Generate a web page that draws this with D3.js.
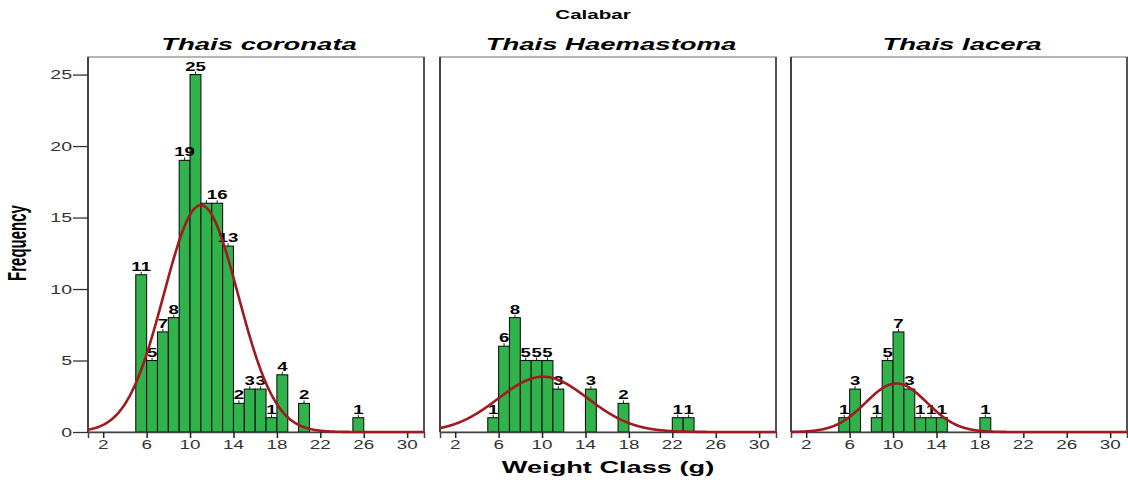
<!DOCTYPE html>
<html><head><meta charset="utf-8">
<script src="https://cdn.jsdelivr.net/npm/d3@7"></script>
<style>body{margin:0;background:#fff}svg{display:block}</style>
</head><body>
<svg id="chart" width="1128" height="482"></svg>
<script>
// ---- data ----
const mainTitle = "Calabar";
const speciesNames = ["Thais coronata", "Thais Haemastoma", "Thais lacera"];
const coronataBins = [5,6,7,8,9,10,11,12,13,14,15,16,17,18,20,25];
const coronataCounts = [11,5,7,8,19,25,16,16,13,2,3,3,1,4,2,1];
const haemastomaBins = [5,6,7,8,9,10,11,14,17,22,23];
const haemastomaCounts = [1,6,8,5,5,5,3,3,2,1,1];
const laceraBins = [5,6,8,9,10,11,12,13,14,18];
const laceraCounts = [1,3,1,5,7,3,1,1,1,1];
// fitted normal curve parameters (mean, sd, n)
const curveMeans = [11.0, 10.1, 10.3];
const curveSDs = [3.42, 4.13, 2.82];
const curveNs = [136, 40, 24];
const xTicks = [2,6,10,14,18,22,26,30];
const yTicks = [0,5,10,15,20,25];
const xLabel = "Weight Class (g)";
const yLabel = "Frequency";

// ---- layout ----
const svg = d3.select("#chart");
const panelLefts = [88, 440, 791];
const panelW = 336;
const plotTop = 57, plotBottom = 432;
const binW = 1;
const y = d3.scaleLinear().domain([0, 26.23]).range([plotBottom, plotTop]);
const FONT = "'Liberation Sans', Arial, sans-serif";

function stretchText(g, x, yy, txt, opts) {
  const t = g.append("text")
    .attr("transform", `translate(${x},${yy}) scale(${opts.sx || 1.55},1)` + (opts.rot ? ` rotate(${opts.rot})` : ""))
    .attr("text-anchor", opts.anchor || "middle")
    .attr("font-family", FONT)
    .attr("font-size", opts.size)
    .attr("font-weight", opts.weight || "normal")
    .attr("font-style", opts.style || "normal")
    .attr("fill", opts.fill || "#000")
    .text(txt);
  if (opts.dy) t.attr("dy", opts.dy);
  return t;
}

function overlaps(a, b) {
  return a.left < b.right - 1 && b.left < a.right - 1 && a.top < b.bottom - 1 && b.top < a.bottom - 1;
}

const datasets = [
  {bins: coronataBins, counts: coronataCounts},
  {bins: haemastomaBins, counts: haemastomaCounts},
  {bins: laceraBins, counts: laceraCounts}
];

datasets.forEach((ds, i) => {
  const left = panelLefts[i];
  const x = d3.scaleLinear().domain([0.6, 31.55]).range([left, left + panelW]);
  const g = svg.append("g");

  // frame
  g.append("rect").attr("x", left).attr("y", plotTop).attr("width", panelW).attr("height", plotBottom - plotTop)
    .attr("fill", "none").attr("stroke", "#6a6a6a").attr("stroke-width", 1);
  g.append("line").attr("x1", left).attr("x2", left).attr("y1", plotTop).attr("y2", plotBottom)
    .attr("stroke", "#444").attr("stroke-width", 2);
  g.append("line").attr("x1", left + panelW).attr("x2", left + panelW).attr("y1", plotTop).attr("y2", plotBottom)
    .attr("stroke", "#555").attr("stroke-width", 2);

  // bars
  const bars = ds.bins.map((b, k) => ({x0: b, x1: b + binW, n: ds.counts[k]}));
  g.selectAll("rect.bar").data(bars).enter().append("rect")
    .attr("class", "bar")
    .attr("x", d => x(d.x0))
    .attr("y", d => y(d.n))
    .attr("width", d => x(d.x1) - x(d.x0))
    .attr("height", d => y(0) - y(d.n))
    .attr("fill", "#2fb34a")
    .attr("stroke", "#151515")
    .attr("stroke-width", 1.1);

  // bar value labels (a later label hides an earlier one it collides with)
  const placed = [];
  bars.forEach(d => {
    const cx = (x(d.x0) + x(d.x1)) / 2;
    g.append("line").attr("x1", cx).attr("x2", cx).attr("y1", y(d.n)).attr("y2", y(d.n) - 3)
      .attr("stroke", "#222").attr("stroke-width", 1);
    const t = stretchText(g, cx, y(d.n) - 4, String(d.n), {size: 12, weight: "bold", sx: 1.55});
    const r = t.node().getBoundingClientRect();
    for (let k = placed.length - 1; k >= 0; k--) {
      if (overlaps(r, placed[k].r)) { placed[k].t.remove(); placed.splice(k, 1); }
    }
    placed.push({t, r});
  });

  // x axis
  const xa = g.append("g").attr("transform", `translate(0,${plotBottom})`)
    .call(d3.axisBottom(x).tickValues(xTicks).tickSize(6).tickFormat(""));
  xa.select(".domain").attr("stroke", "#444").attr("stroke-width", 1.5);
  xa.selectAll(".tick line").attr("stroke", "#222").attr("stroke-width", 1.5);
  xTicks.forEach(t => stretchText(g, x(t), 449, String(t), {size: 13, sx: 1.45, fill: "#333"}));

  // normal curve
  const m = curveMeans[i], s = curveSDs[i], n = curveNs[i];
  const xs = d3.range(0.6, 31.56, 0.05);
  const line = d3.line()
    .x(v => x(v))
    .y(v => y(n * binW * Math.exp(-((v - m) ** 2) / (2 * s * s)) / (s * Math.sqrt(2 * Math.PI))))
    .curve(d3.curveLinear);
  g.append("path").datum(xs).attr("d", line)
    .attr("fill", "none").attr("stroke", "#a01a20").attr("stroke-width", 2.6);

  // panel title
  stretchText(g, left + panelW / 2 + 3, 50, speciesNames[i], {size: 16, weight: "bold", style: "italic", sx: 1.72});
});

// y axis (first panel only)
const ya = svg.append("g").attr("transform", `translate(${panelLefts[0]},0)`)
  .call(d3.axisLeft(y).tickValues(yTicks).tickSize(15).tickFormat(""));
ya.select(".domain").remove();
ya.selectAll(".tick line").attr("stroke", "#333").attr("stroke-width", 1.3);
yTicks.forEach(t => stretchText(svg, 72, y(t), String(t), {size: 13, sx: 1.5, anchor: "end", dy: "0.35em", fill: "#333"}));

// titles
stretchText(svg, 593, 19, mainTitle, {size: 13, weight: "bold", sx: 1.58});
stretchText(svg, 608, 473, xLabel, {size: 16, weight: "bold", sx: 1.7});
stretchText(svg, 26, 243, yLabel, {size: 15, weight: "bold", sx: 1.7, rot: -90});
</script>
</body></html>
